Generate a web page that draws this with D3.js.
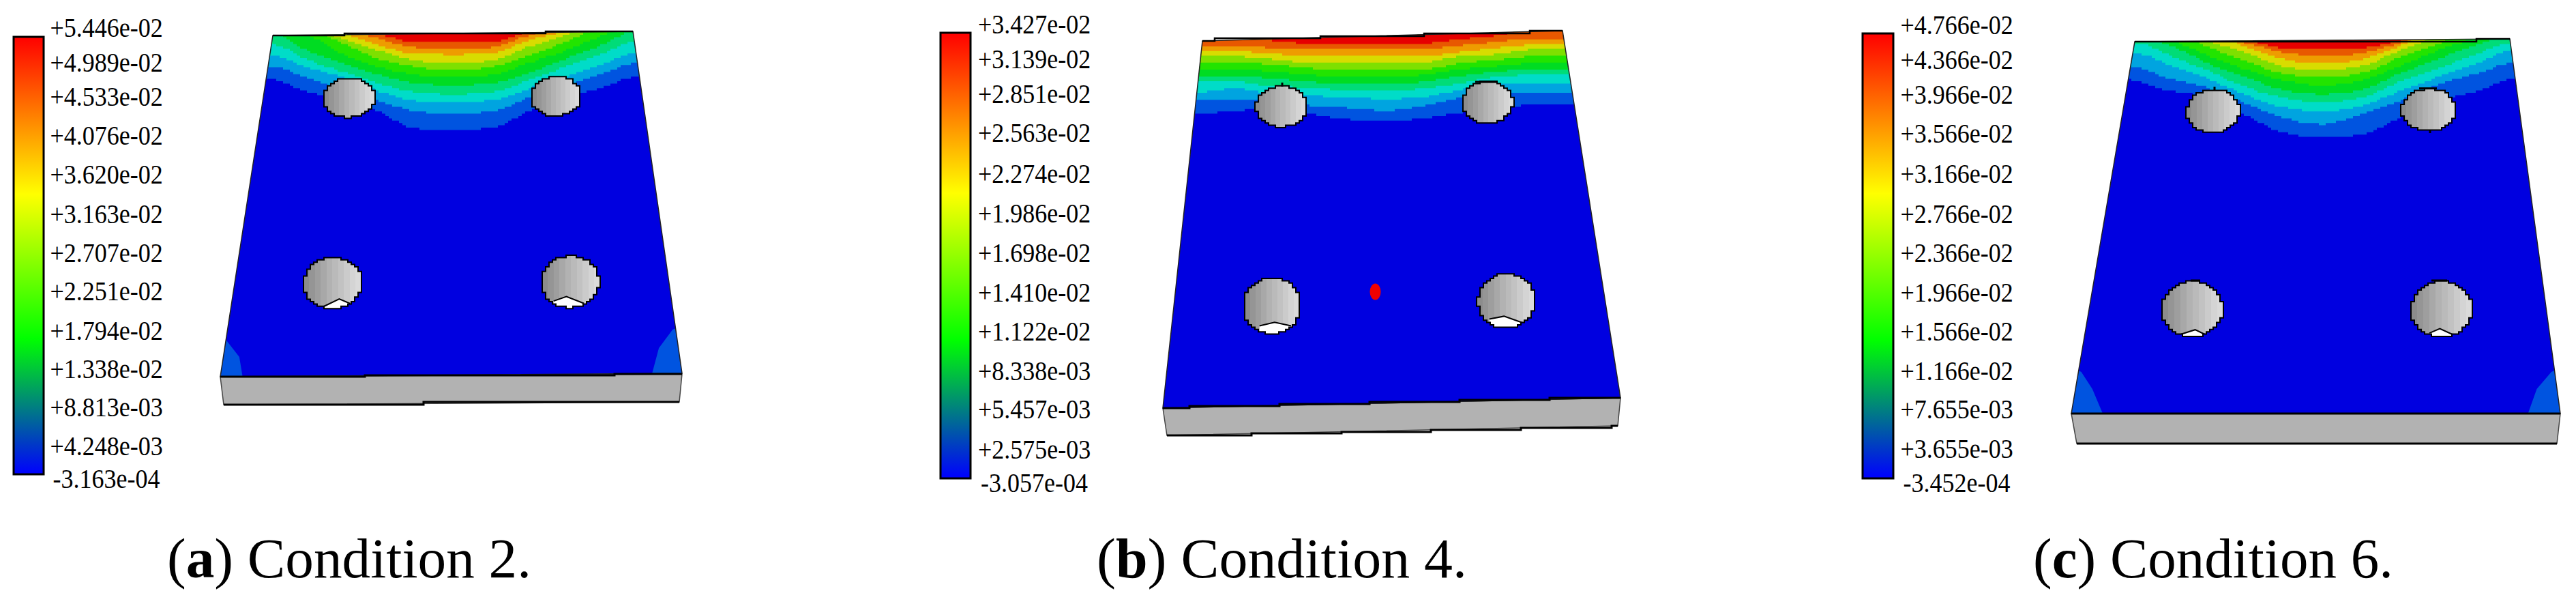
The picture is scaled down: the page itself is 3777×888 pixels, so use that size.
<!DOCTYPE html>
<html>
<head>
<meta charset="utf-8">
<script src="https://cdn.jsdelivr.net/npm/d3@7"></script>
<style>
  html, body { margin: 0; padding: 0; background: #fff; }
  svg { display: block; }
  text { font-family: "Liberation Serif", serif; fill: #000; }
</style>
</head>
<body>
<div class="chart"></div>
<script>
// colour bar tick labels
const ticksA = ["+5.446e-02","+4.989e-02","+4.533e-02","+4.076e-02","+3.620e-02","+3.163e-02","+2.707e-02","+2.251e-02","+1.794e-02","+1.338e-02","+8.813e-03","+4.248e-03","-3.163e-04"];
const ticksB = ["+3.427e-02","+3.139e-02","+2.851e-02","+2.563e-02","+2.274e-02","+1.986e-02","+1.698e-02","+1.410e-02","+1.122e-02","+8.338e-03","+5.457e-03","+2.575e-03","-3.057e-04"];
const ticksC = ["+4.766e-02","+4.366e-02","+3.966e-02","+3.566e-02","+3.166e-02","+2.766e-02","+2.366e-02","+1.966e-02","+1.566e-02","+1.166e-02","+7.655e-03","+3.655e-03","-3.452e-04"];

const tickRowsA = [41,92,142,199,256,314,371,427,485,541,597,654,702];
const tickRowsB = [36,87,138,195,255,313,371,429,486,544,600,659,708];
const tickRowsC = [37,88,139,196,255,314,371,429,486,544,600,658,708];

// fringe colours, highest band first, last one fills the plate
const bandColors = ["#e60000","#e85800","#ee9c00","#d8dc00","#7ee000","#22e400","#00dc22","#00dc78","#00dcc8","#00a4e0","#0054e0","#0000e0"];
const cornerColor = "#0054e0";

// depth of each fringe boundary below the plate's top, at 11 stations across the width
const stations = [0,0.1,0.2,0.3,0.4,0.5,0.6,0.7,0.8,0.9,1];

const contoursA = [
  [-10,-10,-1,6,16,16,16,2,-6,-10,-10],
  [-10,-10,-4,12,24,25,24,7,-4,-10,-10],
  [-10,-9,4,21,33,34,33,14,2,-9,-10],
  [-10,-6,12,29,43,46,43,24,7,-6,-10],
  [-13,-4,19,41,52,57,52,36,17,-4,-13],
  [-6,7,34,52,64,67,64,47,29,9,-9],
  [4,29,47,64,76,79,76,61,41,22,1],
  [19,41,59,76,89,92,89,72,52,34,16],
  [34,52,67,87,102,104,101,84,66,49,31],
  [51,67,84,101,117,121,117,97,79,62,46],
  [69,86,99,116,142,145,141,116,97,81,66]
];
const contoursB = [
  [12,12,15,19,19,19,19,13,8,-2,-5],
  [22,22,26,28,28,28,28,22,17,12,12],
  [31,31,34,38,38,38,38,32,26,21,20],
  [38,38,42,47,48,48,47,38,35,28,28],
  [47,47,50,55,58,58,57,48,43,38,38],
  [57,57,60,65,68,68,65,57,52,48,48],
  [67,67,70,75,78,78,75,67,60,57,57],
  [75,75,82,83,88,88,85,77,68,65,65],
  [90,85,92,95,98,100,97,87,78,77,77],
  [102,100,100,110,113,117,110,98,92,92,90],
  [122,118,113,122,130,132,128,120,115,108,108]
];
const contoursC = [
  [-10,-10,-10,3,14,16,14,3,-10,-10,-10],
  [-10,-10,-8,7,20,26,21,7,-10,-10,-10],
  [-10,-10,-7,13,30,36,30,11,-8,-10,-10],
  [-10,-10,5,21,41,46,40,18,-2,-17,-17],
  [-17,-7,13,33,51,56,50,28,8,-10,-17],
  [-10,3,25,45,61,68,61,40,18,0,-14],
  [0,11,36,56,75,81,75,51,30,10,-4],
  [6,25,46,70,86,93,86,63,43,23,6],
  [21,38,58,81,100,106,98,76,56,36,18],
  [40,58,71,93,115,125,110,90,66,51,35],
  [60,75,85,110,136,145,140,115,90,76,58]
];

// small fringe patches in the front corners: [across, depth]
const cornersA = [
  [[-0.02,445],[0,452],[0.035,477],[0.05,510],[-0.02,510]],
  [[1.02,430],[0.993,437],[0.957,464],[0.93,510],[1.02,510]]
];
const cornersB = [];
const cornersC = [
  [[-0.02,480],[0.006,488],[0.035,513],[0.069,555],[-0.02,555]],
  [[1.02,480],[0.993,488],[0.958,513],[0.93,555],[1.02,555]]
];

// plate outline
const plateA = { tl:[400,52], tr:[928,46], br:[1000,547], bl:[323,552], depth0:46 };
const plateB = { tl:[1763,60], tr:[2291,45], br:[2376,583], bl:[1705,598], depth0:45 };
const plateC = { tl:[3130,61], tr:[3680,57], br:[3754,606], bl:[3037,606], depth0:57 };

const topEdgeA = [[400,52],[505,49],[800,46],[928,46]];
const frontEdgeA = [[323,552],[535,550],[901,548],[1000,548]];
const baseEdgeA = [[328,593],[621,589],[996,589]];
const topEdgeB = [[1763,60],[1781,56],[1936,53],[2088,49],[2243,45],[2291,45]];
const frontEdgeB = [[1705,598],[1744,595],[1876,592],[2008,589],[2140,586],[2272,583],[2376,583]];
const baseEdgeB = [[1711,638],[1835,635],[1967,633],[2098,630],[2230,627],[2363,624],[2372,624]];
const topEdgeC = [[3130,61],[3631,57],[3680,57]];
const frontEdgeC = [[3037,606],[3754,606]];
const baseEdgeC = [[3045,650],[3749,650]];

// holes: centre, radii and, for the front pair, the white gap's top outline (relative to the radii)
const holesA = [
  { c:[512,143], r:[37.5,29] },
  { c:[815,141], r:[37.5,29] },
  { c:[488,415], r:[42.7,38], gap:[[-0.43,0.96],[0.22,0.61],[0.59,0.78]] },
  { c:[836,413], r:[42.5,38], gap:[[-0.57,0.74],[-0.13,0.57],[0.47,0.83]] }
];
const holesB = [
  { c:[1879,156], r:[37.4,30] },
  { c:[2181,150], r:[37,31] },
  { c:[1865,448], r:[42.5,41], gap:[[-0.43,0.72],[0.09,0.59],[0.66,0.72]] },
  { c:[2209,441], r:[42,40], gap:[[-0.6,0.66],[-0.09,0.56],[0.56,0.8]] }
];
const holesC = [
  { c:[3245,163], r:[39,31.7] },
  { c:[3561,161], r:[40,30.7] },
  { c:[3214.5,453], r:[44.8,40.8], gap:[[-0.37,0.9],[0.09,0.74],[0.4,0.9]] },
  { c:[3580,453], r:[44.8,40.8], gap:[[-0.4,0.86],[-0.06,0.7],[0.34,0.9]] }
];
const holeShades = ["#8c8c8c","#959595","#9e9e9e","#a8a8a8","#b2b2b2","#bababa","#c2c2c2","#cbcbcb","#d4d4d4","#dadada"];

// stray bits of mesh outline on some holes: x1, y1, x2, y2
const burrsA = [];
const burrsB = [[1880,121,1880,127],[2163,120,2195,120]];
const burrsC = [[3247,127,3247,132],[3547,129.5,3573,129.5],[3563,190,3563,195],[3212,411,3226,411],[3565,411,3588,411]];

const panels = [
  { id:"a", word:" Condition 2.", ticks:ticksA, rows:tickRowsA, barX:[20,64], barY:[54,695], labelX:156, plate:plateA,
    contours:contoursA, corners:cornersA, topEdge:topEdgeA, frontEdge:frontEdgeA, baseEdge:baseEdgeA, holes:holesA, burrs:burrsA, capX:[245,779] },
  { id:"b", word:" Condition 4.", ticks:ticksB, rows:tickRowsB, barX:[1379,1423], barY:[48,701], labelX:1516.5, plate:plateB,
    contours:contoursB, corners:cornersB, topEdge:topEdgeB, frontEdge:frontEdgeB, baseEdge:baseEdgeB, holes:holesB, burrs:burrsB, capX:[1608,2151], spot:[2016.5,427.5,8,12] },
  { id:"c", word:" Condition 6.", ticks:ticksC, rows:tickRowsC, barX:[2731,2776], barY:[49,701], labelX:2869, plate:plateC,
    contours:contoursC, corners:cornersC, topEdge:topEdgeC, frontEdge:frontEdgeC, baseEdge:baseEdgeC, holes:holesC, burrs:burrsC, capX:[2981,3509] }
];

const width = 3777;
const height = 888;

// everything is read in picture units, these two put it on the page
const x = d3.scaleLinear().domain([0, 3777]).range([0, width]);
const y = d3.scaleLinear().domain([0, 888]).range([0, height]);

const svg = d3.select(".chart")
  .append("svg")
  .attr("width", width)
  .attr("height", height)
  .attr("viewBox", [0, 0, width, height]);

const defs = svg.append("defs");

const barStops = [[0,"#ff0000"],[0.36,"#ffff00"],[0.69,"#00ff00"],[0.845,"#008080"],[1,"#0000ff"]];
defs.append("linearGradient")
  .attr("id", "bar")
  .attr("x1", 0).attr("x2", 0).attr("y1", 0).attr("y2", 1)
  .selectAll("stop")
  .data(barStops)
  .join("stop")
  .attr("offset", d => d[0])
  .attr("stop-color", d => d[1]);

// hard stops so the hole wall looks faceted
const shadeStops = holeShades.flatMap((c, i) => [[i / holeShades.length, c], [(i + 1) / holeShades.length, c]]);
defs.append("linearGradient")
  .attr("id", "wall")
  .selectAll("stop")
  .data(shadeStops)
  .join("stop")
  .attr("offset", d => d[0])
  .attr("stop-color", d => d[1]);

const measure = svg.append("path").attr("fill", "none").attr("stroke", "none");

function stairs(d) {
  // the solver's plot is made of coarse pixels, so snap the smooth boundary to them
  measure.attr("d", d);
  const node = measure.node();
  const len = node.getTotalLength();
  const out = [];
  for (let l = 0; l <= len; l += 2) {
    const p = node.getPointAtLength(l);
    const q = [Math.round(p.x / 5) * 5, Math.round(p.y / 3.4) * 3.4];
    const last = out[out.length - 1];
    if (!last || last[0] !== q[0] || last[1] !== q[1]) out.push(q);
  }
  return out;
}

panels.forEach(panel => {
  const g = svg.append("g");
  const plate = panel.plate;

  // colour bar
  g.append("rect")
    .attr("x", x(panel.barX[0]))
    .attr("y", y(panel.barY[0]))
    .attr("width", x(panel.barX[1]) - x(panel.barX[0]))
    .attr("height", y(panel.barY[1]) - y(panel.barY[0]))
    .attr("fill", "url(#bar)")
    .attr("stroke", "#000")
    .attr("stroke-width", 3);

  g.selectAll("text.tick")
    .data(panel.ticks)
    .join("text")
    .attr("class", "tick")
    .attr("text-anchor", "middle")
    .attr("font-size", 40)
    .attr("transform", (d, i) => `translate(${x(panel.labelX)},${y(panel.rows[i]) + 13}) scale(0.9,1)`)
    .text(d => d);

  // edges of the top face as functions of picture height
  const leftX = d3.scaleLinear().domain([plate.tl[1], plate.bl[1]]).range([plate.tl[0], plate.bl[0]]);
  const rightX = d3.scaleLinear().domain([plate.tr[1], plate.br[1]]).range([plate.tr[0], plate.br[0]]);
  const depth = d3.scaleLinear().domain([0, 500]).range([plate.depth0, plate.depth0 + 500]);
  const project = (u, d) => {
    const py = depth(d);
    return [x(leftX(py) + (rightX(py) - leftX(py)) * u), y(py)];
  };

  // side face under the plate
  const side = [panel.frontEdge[0], panel.frontEdge[panel.frontEdge.length - 1],
    panel.baseEdge[panel.baseEdge.length - 1], panel.baseEdge[0]];
  g.append("path")
    .attr("d", d3.line().x(d => x(d[0])).y(d => y(d[1]))(side) + "Z")
    .attr("fill", "#b2b2b2")
    .attr("stroke", "#444")
    .attr("stroke-width", 1.5);

  // top face
  const face = [plate.tl, plate.tr, plate.br, plate.bl];
  const faceD = d3.line().x(d => x(d[0])).y(d => y(d[1]))(face) + "Z";
  defs.append("clipPath").attr("id", "face-" + panel.id).append("path").attr("d", faceD);

  const bands = g.append("g").attr("clip-path", `url(#face-${panel.id})`);
  bands.append("path").attr("d", faceD).attr("fill", bandColors[bandColors.length - 1]);

  // paint from the lowest fringe up, each one covering everything above its boundary
  d3.range(panel.contours.length - 1, -1, -1).forEach(i => {
    const row = panel.contours[i];
    const pts = [project(-0.05, row[0])]
      .concat(stations.map((u, j) => project(u, row[j])))
      .concat([project(1.05, row[row.length - 1])]);
    const edge = stairs(d3.line().curve(d3.curveMonotoneX)(pts));
    const first = edge[0];
    const last = edge[edge.length - 1];
    const d = d3.line().curve(d3.curveStepAfter)(edge) + `L${last[0]},0L${first[0]},0Z`;
    bands.append("path").attr("d", d).attr("fill", bandColors[i]);
  });

  bands.selectAll("path.corner")
    .data(panel.corners)
    .join("path")
    .attr("class", "corner")
    .attr("d", d => d3.line()(d.map(p => project(p[0], p[1]))) + "Z")
    .attr("fill", cornerColor);

  // thin slanted sides
  g.append("path")
    .attr("d", faceD)
    .attr("fill", "none")
    .attr("stroke", "#222")
    .attr("stroke-width", 1.5);

  // holes, stepped like the contours
  panel.holes.forEach((h, i) => {
    const cx = x(h.c[0]), cy = y(h.c[1]), rx = h.r[0], ry = h.r[1];
    const id = `hole-${panel.id}-${i}`;
    const ring = `M${cx - rx},${cy}A${rx},${ry} 0 1,1 ${cx + rx},${cy}A${rx},${ry} 0 1,1 ${cx - rx},${cy}`;
    const outline = d3.line().curve(d3.curveStepAfter)(stairs(ring)) + "Z";
    defs.append("clipPath").attr("id", id).append("path").attr("d", outline);
    g.append("path").attr("d", outline).attr("fill", "url(#wall)");
    if (h.gap) {
      const arch = h.gap.map(p => [cx + p[0] * rx, cy + p[1] * ry]);
      const bottom = cy + ry + 3;
      const hg = g.append("g").attr("clip-path", `url(#${id})`);
      hg.append("path")
        .attr("d", d3.line()(arch) + `L${arch[2][0]},${bottom}L${arch[0][0]},${bottom}Z`)
        .attr("fill", "#fff");
      hg.append("path")
        .attr("d", d3.line()(arch))
        .attr("fill", "none")
        .attr("stroke", "#000")
        .attr("stroke-width", 2);
    }
    g.append("path")
      .attr("d", outline)
      .attr("fill", "none")
      .attr("stroke", "#000")
      .attr("stroke-width", 2);
  });

  g.selectAll("line.burr")
    .data(panel.burrs)
    .join("line")
    .attr("class", "burr")
    .attr("x1", d => x(d[0])).attr("y1", d => y(d[1]))
    .attr("x2", d => x(d[2])).attr("y2", d => y(d[3]))
    .attr("stroke", "#000")
    .attr("stroke-width", 3);

  // the lone red spot of condition 4
  if (panel.spot) {
    g.append("ellipse")
      .attr("cx", x(panel.spot[0])).attr("cy", y(panel.spot[1]))
      .attr("rx", panel.spot[2]).attr("ry", panel.spot[3])
      .attr("fill", "#f00000");
  }

  // stepped black outlines
  const stepLine = d3.line().curve(d3.curveStepAfter).x(d => x(d[0])).y(d => y(d[1]));
  g.append("path").attr("d", stepLine(panel.topEdge)).attr("fill", "none").attr("stroke", "#000").attr("stroke-width", 2.5);
  g.append("path").attr("d", stepLine(panel.frontEdge)).attr("fill", "none").attr("stroke", "#000").attr("stroke-width", 3);
  g.append("path").attr("d", stepLine(panel.baseEdge)).attr("fill", "none").attr("stroke", "#000").attr("stroke-width", 3);

  // caption
  const cap = g.append("text")
    .attr("x", x(panel.capX[0]))
    .attr("y", y(846))
    .attr("font-size", 83)
    .attr("textLength", x(panel.capX[1]) - x(panel.capX[0]))
    .attr("lengthAdjust", "spacingAndGlyphs");
  cap.append("tspan").text("(");
  cap.append("tspan").attr("font-weight", "bold").text(panel.id);
  cap.append("tspan").text(")" + panel.word);
});

measure.remove();
</script>
</body>
</html>
